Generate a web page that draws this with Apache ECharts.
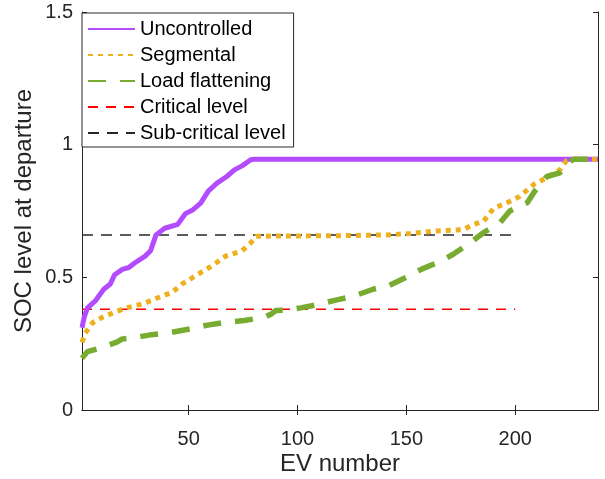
<!DOCTYPE html>
<html>
<head>
<meta charset="utf-8">
<script src="https://cdn.jsdelivr.net/npm/echarts@6/dist/echarts.min.js"></script>
<style>
  html, body { margin: 0; padding: 0; background: #fff; }
  #chart { width: 605px; height: 479px; }
</style>
</head>
<body>
<div id="chart"></div>
<script>
// EV number / SOC values
const uncX = [1, 2, 3.5, 7, 11, 14, 16, 19.5, 22.5, 25.5, 30, 32.5, 35, 39, 45, 48.5, 52, 55.5, 59, 63, 67.5, 71, 74.5, 78.5, 80, 238];
const uncY = [0.31, 0.35, 0.385, 0.41, 0.455, 0.475, 0.51, 0.53, 0.537, 0.556, 0.58, 0.6, 0.66, 0.685, 0.7, 0.74, 0.755, 0.78, 0.825, 0.855, 0.88, 0.905, 0.92, 0.943, 0.945, 0.945];

const segX = [1, 2.5, 6, 10.5, 16.5, 21, 29, 36.5, 42.5, 47, 53, 61, 67, 74.5, 78.5, 81, 100, 120, 141, 152, 164, 176, 181, 185.5, 190, 196, 202, 208.5, 214.5, 220.5, 223.5, 226, 238];
const segY = [0.255, 0.29, 0.33, 0.35, 0.37, 0.384, 0.4, 0.425, 0.444, 0.475, 0.505, 0.545, 0.58, 0.6, 0.63, 0.655, 0.656, 0.657, 0.66, 0.665, 0.675, 0.68, 0.7, 0.712, 0.76, 0.78, 0.805, 0.85, 0.875, 0.905, 0.94, 0.945, 0.945];

const flatX = [1, 3.5, 8, 17, 19.5, 24, 33, 41, 51, 58, 67.5, 75.5, 85, 88, 90, 95, 101.5, 109, 118, 125, 135, 142, 150, 157, 165.5, 171.5, 179.5, 185.5, 193, 197.5, 205.5, 209, 214.5, 220.5, 225, 227, 238];
const flatY = [0.195, 0.22, 0.23, 0.256, 0.268, 0.271, 0.284, 0.291, 0.306, 0.319, 0.331, 0.337, 0.35, 0.362, 0.375, 0.376, 0.385, 0.397, 0.415, 0.427, 0.456, 0.469, 0.5, 0.531, 0.56, 0.587, 0.631, 0.669, 0.706, 0.75, 0.781, 0.825, 0.88, 0.894, 0.937, 0.945, 0.945];

const levelX = [1, 200];
const criticalLevel = 0.38;
const subCriticalLevel = 0.66;

const xTicks = [50, 100, 150, 200];
const names = ['Uncontrolled', 'Segmental', 'Load flattening', 'Critical level', 'Sub-critical level'];

const zip = (xs, ys) => xs.map((x, i) => [x, ys[i]]);
const flat = (xs, v) => xs.map(x => [x, v]);

const FONT = "'Liberation Sans', Arial, Helvetica, sans-serif";
const INK = '#262626';

let chart = echarts.init(document.getElementById('chart'));

const baseAxisLine = { show: true, lineStyle: { color: INK, width: 1 } };

chart.setOption({
    animation: false,
    textStyle: { fontFamily: FONT, color: INK },
    grid: { left: 82, right: 7, top: 12, bottom: 69, containLabel: false, outerBoundsMode: 'none' },

    legend: {
        data: names,
        orient: 'vertical',
        left: 82,
        top: 13,
        padding: [6, 8, 4, 5],
        itemWidth: 47,
        itemHeight: 14,
        itemGap: 6,
        backgroundColor: '#fff',
        borderColor: INK,
        borderWidth: 1,
        borderRadius: 0,
        itemStyle: { opacity: 0 },
        textStyle: { fontSize: 20, lineHeight: 20, color: '#000', fontFamily: FONT },
        selectedMode: false
    },

    xAxis: [{
        type: 'value',
        min: 1,
        max: 238,
        name: 'EV number',
        nameLocation: 'middle',
        nameGap: 42,
        nameMoveOverlap: false,
        nameTextStyle: { fontSize: 24, color: INK },
        axisLine: baseAxisLine,
        axisTick: { show: true, inside: true, length: 5, customValues: xTicks, lineStyle: { color: INK } },
        axisLabel: { fontSize: 20, color: INK, margin: 19, customValues: xTicks },
        splitLine: { show: false }
    }, {
        type: 'value',
        position: 'top',
        min: 1,
        max: 238,
        axisLine: baseAxisLine,
        axisTick: { show: true, inside: true, length: 5, customValues: xTicks, lineStyle: { color: INK } },
        axisLabel: { show: false },
        splitLine: { show: false }
    }],

    yAxis: [{
        type: 'value',
        min: 0,
        max: 1.5,
        interval: 0.5,
        name: 'SOC level at departure',
        nameLocation: 'middle',
        nameGap: 46,
        nameMoveOverlap: false,
        nameRotate: 90,
        nameTextStyle: { fontSize: 24, color: INK },
        axisLine: baseAxisLine,
        axisTick: { show: true, inside: true, length: 5, lineStyle: { color: INK } },
        axisLabel: { fontSize: 20, color: INK, margin: 9 },
        splitLine: { show: false }
    }, {
        type: 'value',
        position: 'right',
        min: 0,
        max: 1.5,
        interval: 0.5,
        axisLine: baseAxisLine,
        axisTick: { show: true, inside: true, length: 5, lineStyle: { color: INK } },
        axisLabel: { show: false },
        splitLine: { show: false }
    }],

    series: [{
        name: 'Critical level',
        type: 'line',
        symbol: 'none',
        data: flat(levelX, criticalLevel),
        lineStyle: { color: '#ff0000', width: 1.5, type: [10, 8] }
    }, {
        name: 'Sub-critical level',
        type: 'line',
        symbol: 'none',
        data: flat(levelX, subCriticalLevel),
        lineStyle: { color: '#262626', width: 1.5, type: [11, 8] }
    }, {
        name: 'Uncontrolled',
        type: 'line',
        symbol: 'none',
        data: zip(uncX, uncY),
        lineStyle: { color: '#b34bff', width: 5, cap: 'butt', join: 'round' }
    }, {
        name: 'Segmental',
        type: 'line',
        symbol: 'none',
        data: zip(segX, segY),
        lineStyle: { color: '#edb120', width: 5, type: [5, 5], cap: 'butt' }
    }, {
        name: 'Load flattening',
        type: 'line',
        symbol: 'none',
        data: zip(flatX, flatY),
        lineStyle: { color: '#77ac30', width: 5.5, type: [18, 14], cap: 'butt' }
    }]
});
</script>
</body>
</html>
